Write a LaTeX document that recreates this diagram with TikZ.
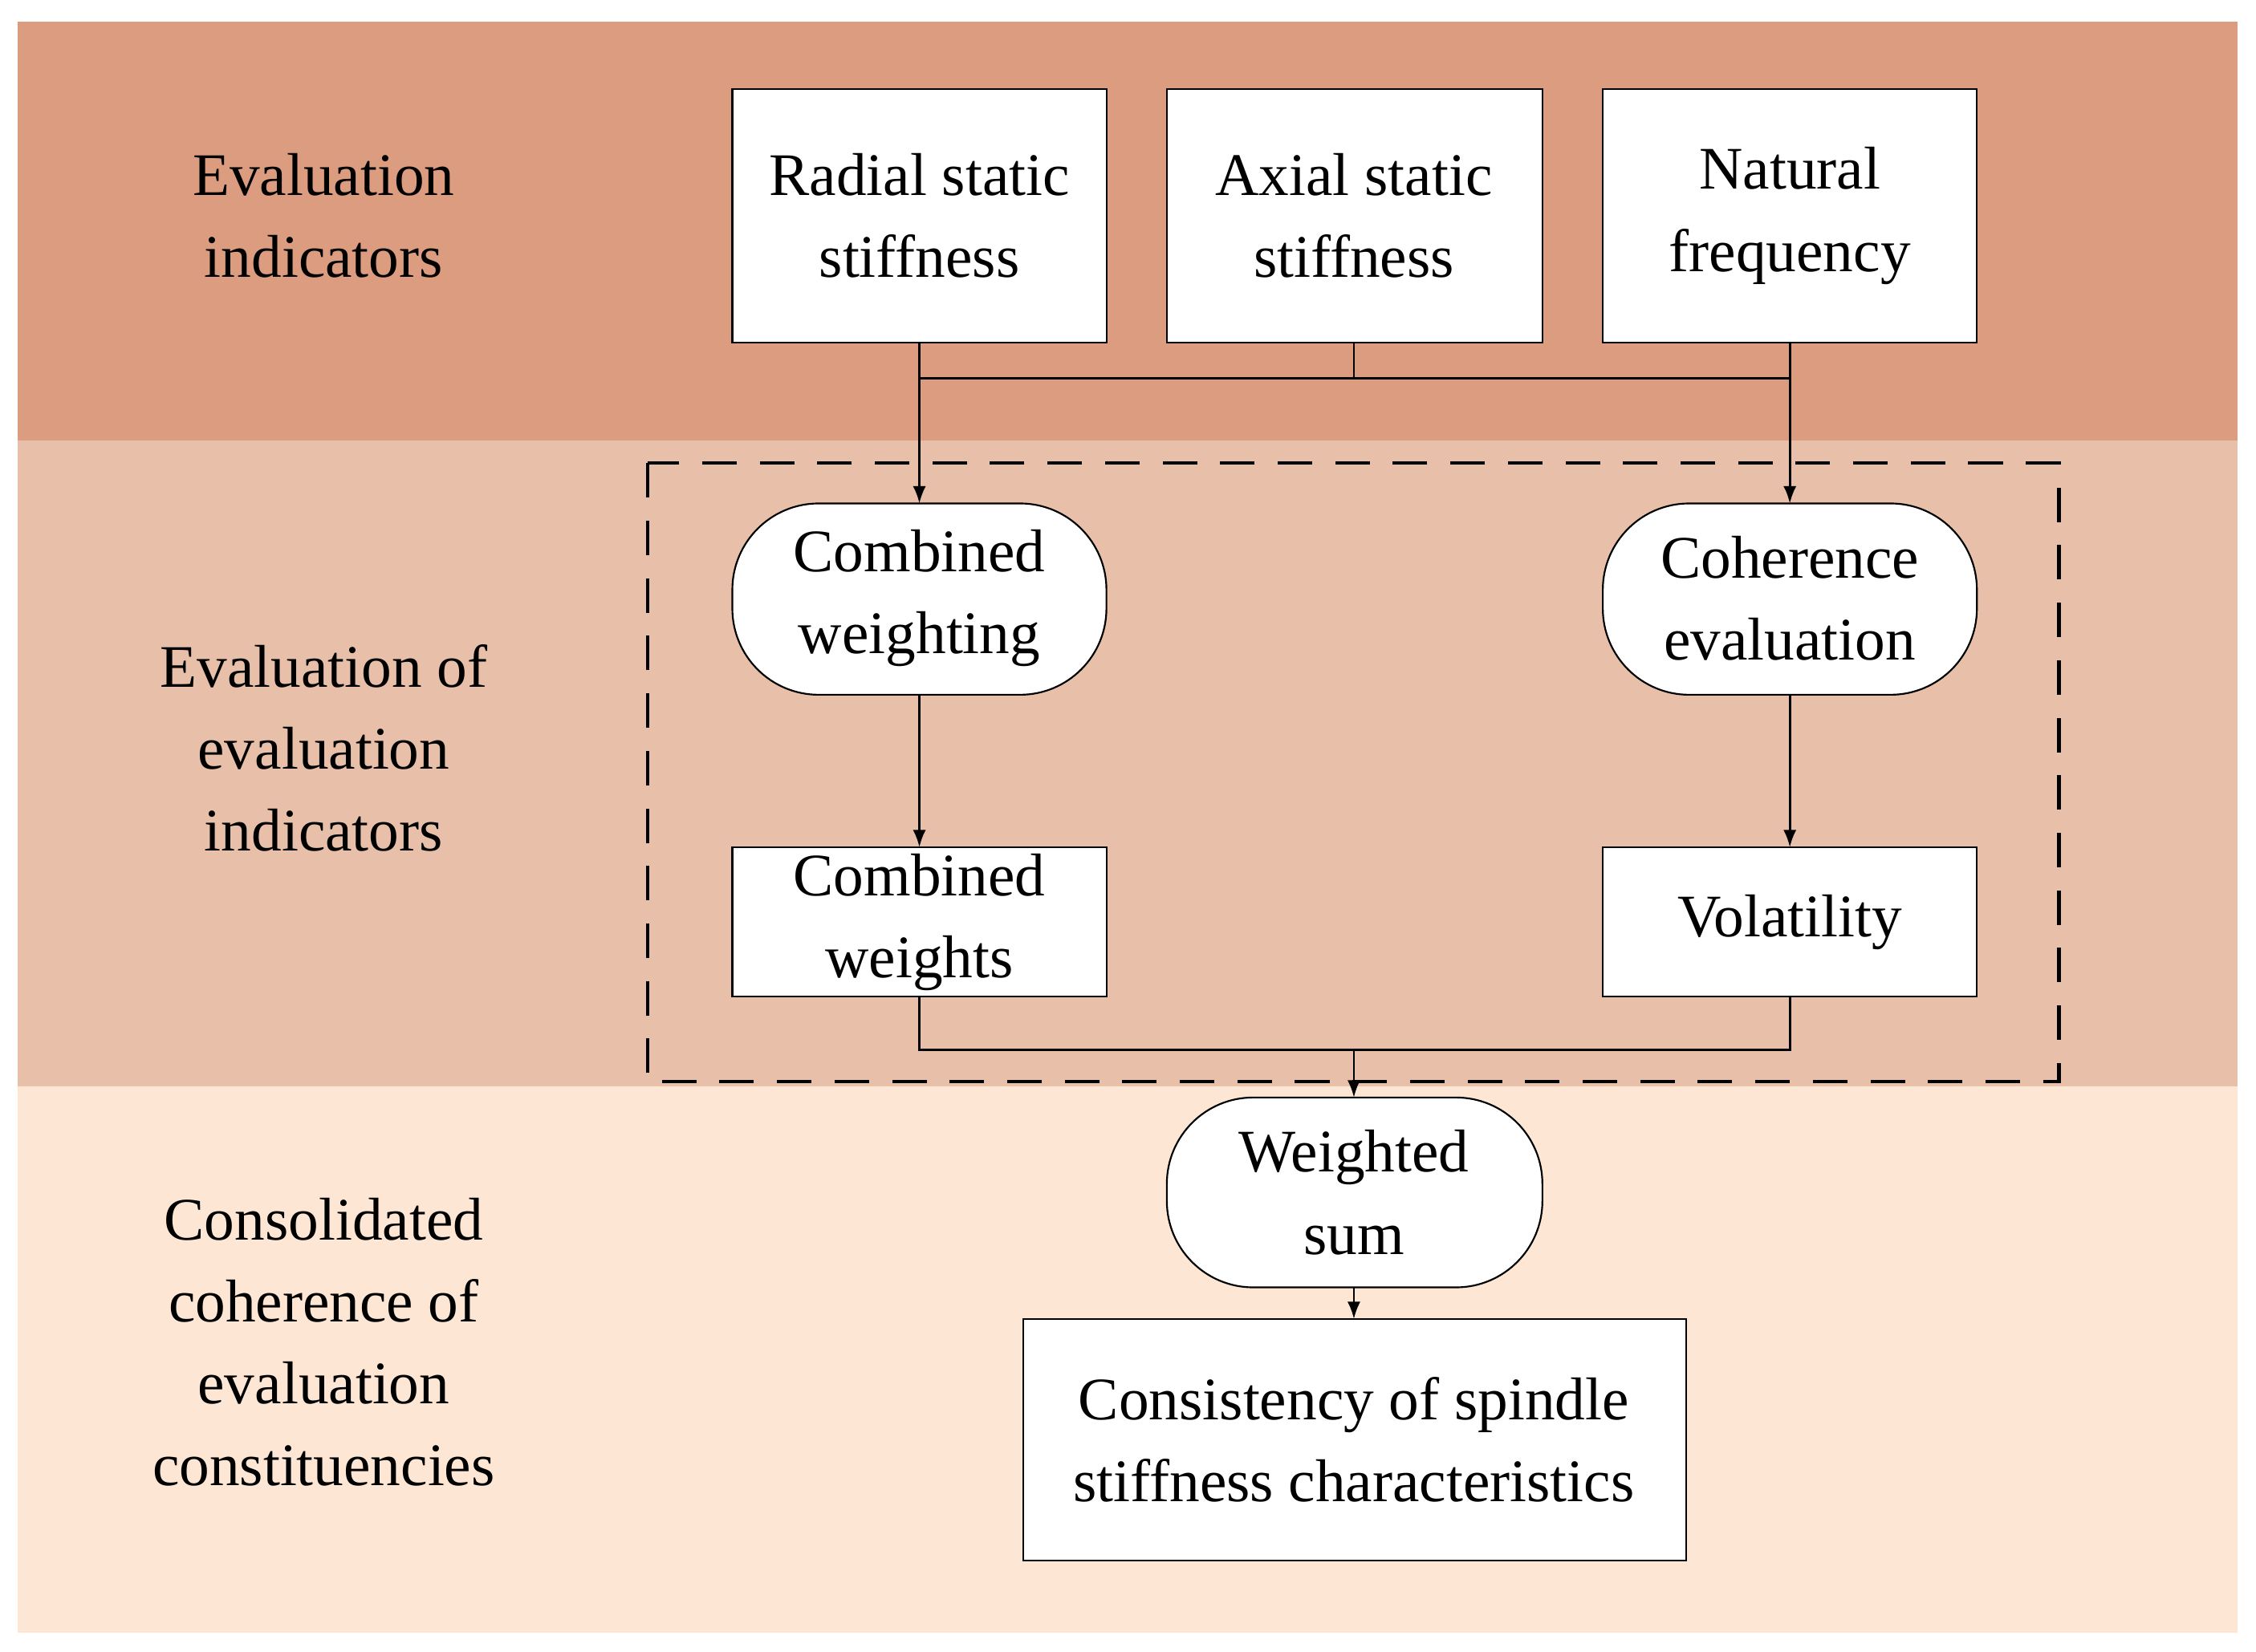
\documentclass[tikz,border=0pt]{standalone}
\usepackage{fontspec}
\setmainfont{Liberation Serif}
\begin{document}
\begin{tikzpicture}[x=0.5pt,y=-0.5pt,
  txt/.style={font=\fontsize{21}{28.5}\selectfont,align=center},
  box/.style={draw,fill=white,line width=0.6pt,inner sep=0pt},
  stad/.style={draw,fill=white,line width=0.6pt,rounded corners=30pt},
  ln/.style={line width=0.8pt},
  arr/.style={line width=0.8pt,-{Latex[length=6pt,width=4.5pt]}}]
\usetikzlibrary{arrows.meta}
\useasboundingbox (0,0) rectangle (1568,1148);
\fill[white] (0,0) rectangle (1568,1148);
\fill[fill={rgb,255:red,220;green,156;blue,128}] (12,15) rectangle (1555,306);
\fill[fill={rgb,255:red,232;green,191;blue,168}] (12,306) rectangle (1555,755);
\fill[fill={rgb,255:red,253;green,230;blue,212}] (12,755) rectangle (1555,1135);
\draw[line width=1.2pt,dash pattern=on 12pt off 8pt] (450,322) rectangle (1431,752);
% top boxes
\draw[box] (509,62) rectangle (769,238); \node[txt] (r) at (639,150) {Radial static\\stiffness};
\draw[box] (811,62) rectangle (1072,238); \node[txt] (a) at (941,150) {Axial static\\stiffness};
\draw[box] (1114,62) rectangle (1374,238); \node[txt] (n) at (1244,150) {Natural\\frequency};
\coordinate (rb) at (639,238); \coordinate (ab) at (941,238); \coordinate (nb) at (1244,238);
\coordinate (j1) at (639,263); \coordinate (j2) at (941,263); \coordinate (j3) at (1244,263);
\draw[ln] (rb)--(j1) (ab)--(j2) (nb)--(j3) (j1)--(j3);
\coordinate (cwt) at (639,350); \coordinate (cet) at (1244,350);
\draw[arr] (j1)--(cwt); \draw[arr] (j3)--(cet);
% stadiums
\draw[stad] (509,350) rectangle (769,483); \node[txt] (cw) at (639,416) {Combined\\weighting};
\draw[stad] (1114,350) rectangle (1374,483); \node[txt] (ce) at (1244,416) {Coherence\\evaluation};
\coordinate (cwb) at (639,483); \coordinate (ceb) at (1244,483);
\coordinate (cst) at (639,589); \coordinate (vt) at (1244,589);
\draw[arr] (cwb)--(cst); \draw[arr] (ceb)--(vt);
\draw[box] (509,589) rectangle (769,693); \node[txt] (cs) at (639,641) {Combined\\weights};
\draw[box] (1114,589) rectangle (1374,693); \node[txt] (v) at (1244,641) {Volatility};
\coordinate (csb) at (639,693); \coordinate (vb) at (1244,693);
\coordinate (k1) at (639,730); \coordinate (k2) at (941,730); \coordinate (k3) at (1244,730);
\draw[ln] (csb)--(k1)--(k3)--(vb);
\coordinate (wt) at (941,763);
\draw[arr] (k2)--(wt);
\draw[stad] (811,763) rectangle (1072,895); \node[txt] (ws) at (941,829) {Weighted\\sum};
\coordinate (wb) at (941,895); \coordinate (ct) at (941,917);
\draw[arr] (wb)--(ct);
\draw[box] (711,917) rectangle (1172,1085); \node[txt] (c) at (941,1001) {Consistency of spindle\\stiffness characteristics};
% left labels
\node[txt] (l1) at (225,150) {Evaluation\\indicators};
\node[txt] (l2) at (225,520) {Evaluation of\\evaluation\\indicators};
\node[txt] (l3) at (225,933) {Consolidated\\coherence of\\evaluation\\constituencies};
\end{tikzpicture}
\end{document}
